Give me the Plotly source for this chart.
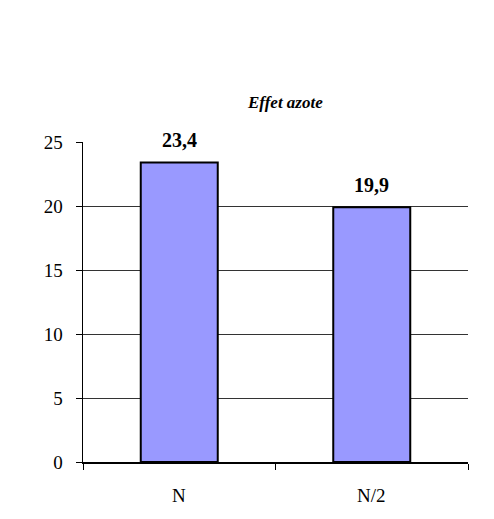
import plotly.graph_objects as go

# Rendement selon la dose d'azote
categories = ["N", "N/2"]
values = [23.4, 19.9]
y_ticks = [0, 5, 10, 15, 20, 25]

SERIF = "Liberation Serif"
NBSP = "\u00a0"

fig = go.Figure(go.Bar(
    x=categories,
    y=values,
    width=0.4,
    marker=dict(color="#9999FF", line=dict(color="black", width=2)),
))

fig.update_layout(
    width=494, height=519,
    margin=dict(l=83, r=26, t=142, b=57),
    font=dict(family=SERIF, size=19, color="black"),
    plot_bgcolor="white",
    paper_bgcolor="white",
    showlegend=False,
)

# Category labels under the axis
for cat in categories:
    fig.add_annotation(
        x=cat, y=0, xref="x", yref="y",
        text=cat, showarrow=False, yshift=-33, yanchor="middle",
        font=dict(family=SERIF, size=19, color="black"),
    )

# Value labels above each bar (French decimal comma)
for cat, val in zip(categories, values):
    fig.add_annotation(
        x=cat, y=val, xref="x", yref="y",
        text="<b>" + f"{val:.1f}".replace(".", ",") + "</b>",
        showarrow=False, yshift=22, yanchor="middle",
        font=dict(family=SERIF, size=20, color="black"),
        bgcolor="white", borderpad=1,
    )

# Chart title
fig.add_annotation(
    x=0.525, y=1.125, xref="paper", yref="paper",
    xanchor="center", yanchor="middle",
    text="<b><i>Effet azote</i></b>", showarrow=False,
    font=dict(family=SERIF, size=17, color="black"),
)

fig.update_xaxes(
    type="category",
    showline=True, linecolor="black", linewidth=1.5,
    ticks="outside", tickson="boundaries", ticklen=6, tickcolor="black",
    showticklabels=False,
    showgrid=False, zeroline=False,
)
fig.update_yaxes(
    range=[0, 25], tickvals=y_ticks,
    ticktext=[f"{v}{NBSP * 2}" for v in y_ticks],
    showline=True, linecolor="black", linewidth=1,
    ticks="outside", ticklen=6, tickcolor="black",
    tickfont=dict(family=SERIF, size=19, color="black"),
    showgrid=True, gridcolor="#333333", gridwidth=1,
    zeroline=False,
)

fig.write_html("out.html")
